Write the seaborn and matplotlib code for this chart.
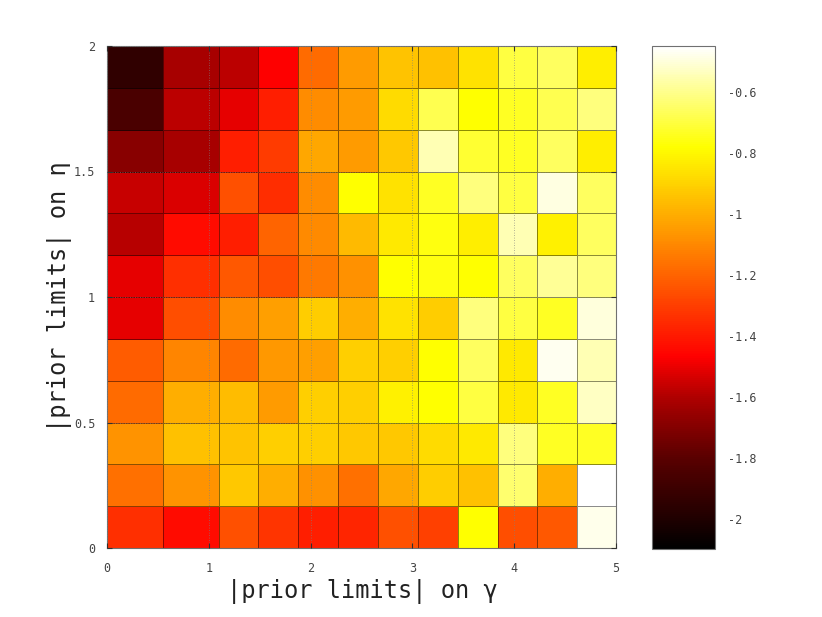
import numpy as np
import matplotlib
matplotlib.use("Agg")
import matplotlib.pyplot as plt
import seaborn as sns
from matplotlib.colors import LinearSegmentedColormap

# ---- data -------------------------------------------------------------
gamma_edges = [0.0, 0.552, 1.102, 1.488, 1.880, 2.273, 2.659,
               3.052, 3.445, 3.837, 4.220, 4.612, 5.0]
eta_edges = [0.0, 0.1667, 0.3333, 0.5, 0.6667, 0.8333, 1.0,
             1.1667, 1.3333, 1.5, 1.6667, 1.8333, 2.0]

# rows listed from top (eta ~ 2) to bottom (eta ~ 0)
row_eta_12 = [-1.94, -1.62, -1.58, -1.47, -1.18, -1.05, -0.94, -0.95, -0.86, -0.70, -0.66, -0.83]
row_eta_11 = [-1.85, -1.58, -1.51, -1.39, -1.09, -1.05, -0.88, -0.68, -0.78, -0.74, -0.68, -0.62]
row_eta_10 = [-1.69, -1.62, -1.39, -1.31, -1.02, -1.05, -0.93, -0.55, -0.72, -0.74, -0.66, -0.83]
row_eta_09 = [-1.56, -1.53, -1.25, -1.35, -1.09, -0.78, -0.86, -0.74, -0.62, -0.70, -0.49, -0.66]
row_eta_08 = [-1.59, -1.44, -1.39, -1.20, -1.10, -0.97, -0.84, -0.76, -0.83, -0.55, -0.82, -0.66]
row_eta_07 = [-1.51, -1.34, -1.23, -1.26, -1.14, -1.08, -0.78, -0.76, -0.78, -0.66, -0.59, -0.62]
row_eta_06 = [-1.51, -1.26, -1.09, -1.04, -0.92, -1.00, -0.86, -0.92, -0.62, -0.70, -0.74, -0.50]
row_eta_05 = [-1.22, -1.11, -1.18, -1.06, -1.04, -0.91, -0.91, -0.78, -0.66, -0.84, -0.47, -0.55]
row_eta_04 = [-1.18, -1.00, -0.96, -1.05, -0.91, -0.91, -0.82, -0.78, -0.70, -0.84, -0.74, -0.53]
row_eta_03 = [-1.07, -0.95, -0.94, -0.91, -0.91, -0.93, -0.93, -0.88, -0.84, -0.62, -0.74, -0.74]
row_eta_02 = [-1.17, -1.07, -0.93, -1.00, -1.08, -1.17, -1.02, -0.92, -0.95, -0.64, -1.00, -0.45]
row_eta_01 = [-1.34, -1.44, -1.25, -1.33, -1.39, -1.37, -1.25, -1.30, -0.78, -1.26, -1.23, -0.48]

cb_ticks = [-2.0, -1.8, -1.6, -1.4, -1.2, -1.0, -0.8, -0.6]
cb_labels = ["-2", "-1.8", "-1.6", "-1.4", "-1.2", "-1", "-0.8", "-0.6"]
x_ticks = [0, 1, 2, 3, 4, 5]
y_ticks = [0, 0.5, 1, 1.5, 2]
y_labels = ["0", "0.5", "1", "1.5", "2"]
vmin, vmax = -2.1, -0.45

# ---- style ------------------------------------------------------------
sns.set_theme(style="white")
plt.rcParams['font.family'] = ['DejaVu Sans Mono', 'DejaVu Sans']

rows_top_down = [row_eta_12, row_eta_11, row_eta_10, row_eta_09, row_eta_08, row_eta_07,
                 row_eta_06, row_eta_05, row_eta_04, row_eta_03, row_eta_02, row_eta_01]
Z = np.array(rows_top_down[::-1])

def pos(v):
    return (v - vmin) / (vmax - vmin)

cmap = LinearSegmentedColormap.from_list("gp_hot", [
    (0.0, "#000000"),
    (pos(-2.0), "#200000"),
    (pos(-1.8), "#5a0000"),
    (pos(-1.6), "#b00000"),
    (pos(-1.47), "#ff0000"),
    (pos(-0.78), "#ffff00"),
    (1.0, "#ffffff"),
])

fig = plt.figure(figsize=(8.22, 6.17), dpi=100)
ax = fig.add_axes([107/822, 1-548/617, (616-107)/822, (548-46)/617])
cax = fig.add_axes([652/822, 1-549/617, (715-652)/822, (549-46)/617])

mesh = ax.pcolormesh(gamma_edges, eta_edges, Z, cmap=cmap, vmin=vmin, vmax=vmax,
                     edgecolors=(0, 0, 0, 0.45), linewidth=0.6, zorder=1)
ax.set_xlim(0, 5)
ax.set_ylim(0, 2)
ax.set_xticks(x_ticks)
ax.set_xticklabels([str(t) for t in x_ticks])
ax.set_yticks(y_ticks)
ax.set_yticklabels(y_labels)
ax.grid(True, linestyle=(0, (1, 2)), color="#808080", linewidth=0.6, alpha=0.8, zorder=3)
ax.set_axisbelow(False)
ax.tick_params(direction="in", length=3.5, width=0.8, color="#303030",
               top=True, right=True, bottom=True, left=True,
               labelsize=8.5, labelcolor="#444444")
ax.tick_params(axis="x", pad=10)
ax.tick_params(axis="y", pad=8.5)
for s in ax.spines.values():
    s.set_color("#707070")
    s.set_linewidth(0.8)
    s.set_visible(True)

cbar = fig.colorbar(mesh, cax=cax)
cbar.set_ticks(cb_ticks)
cbar.set_ticklabels(cb_labels)
cbar.outline.set_edgecolor("#707070")
cbar.outline.set_linewidth(0.8)
cax.tick_params(direction="in", length=4.5, width=0.8, color="#303030",
                left=True, right=True, labelleft=False, labelright=True,
                labelsize=8.5, labelcolor="#444444", pad=9)

fig.text(362/822, 1-591/617, "|prior limits| on γ", ha="center", va="center",
         fontsize=17, color="#222222")
fig.text(59/822, 1-297/617, "|prior limits| on η", ha="center", va="center",
         rotation=90, fontsize=17, color="#222222")

fig.savefig("out.png", dpi=100)
